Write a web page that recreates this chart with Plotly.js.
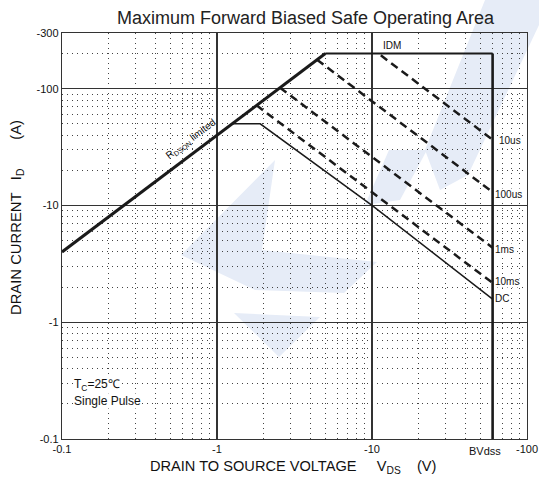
<!DOCTYPE html>
<html>
<head>
<meta charset="utf-8">
<script src="https://cdn.plot.ly/plotly-3.0.1.min.js"></script>
<style>html,body{margin:0;padding:0;background:#fff;}#chart{width:539px;height:487px;}</style>
</head>
<body>
<div id="chart"></div>
<script>
// ---- tick labels ----
const xTickVals = [0.1, 1, 10, 100];
const xTickText = ['-0.1', '-1', '-10', '-100'];
const yTickVals = [0.1, 1, 10, 100, 300];
const yTickText = ['-0.1', '-1', '-10', '-100', '-300'];

// ---- boundary curves (|VDS| in V, |ID| in A) ----
const rdsV = [0.1, 5];
const rdsI = [4, 200];
const idmV = [5, 60];
const idmI = [200, 200];
const bvV = [60, 60];
const bvI = [200, 0.1];

// ---- pulse limits ----
const v10us = [11.4, 60];
const i10us = [193, 36.6];
const v100us = [4.42, 60];
const i100us = [177, 13];
const v1ms = [2.55, 60];
const i1ms = [102, 4.35];
const v10ms = [1.8, 60];
const i10ms = [72, 2.17];
const vDC = [1.25, 1.9, 10, 60];
const iDC = [50, 50, 10, 1.58];

// minor grid positions (2..9 per decade)
function minorVals(lo, hi, extra) {
  const out = [];
  for (let d = lo; d < hi; d++) {
    for (let k = 2; k <= 9; k++) out.push(k * Math.pow(10, d));
  }
  return out.concat(extra || []);
}
const xMinor = minorVals(-1, 2);
const yMinor = minorVals(-1, 2, [200]);

const ink = '#1a1a1a';
const traces = [
  {x: rdsV, y: rdsI, mode: 'lines', line: {color: ink, width: 3}},
  {x: idmV, y: idmI, mode: 'lines', line: {color: ink, width: 2}},
  {x: bvV, y: bvI, mode: 'lines', line: {color: ink, width: 2.6}},
  {x: v10us, y: i10us, mode: 'lines', line: {color: ink, width: 2.5, dash: '8px,5px'}},
  {x: v100us, y: i100us, mode: 'lines', line: {color: ink, width: 2.5, dash: '8px,5px'}},
  {x: v1ms, y: i1ms, mode: 'lines', line: {color: ink, width: 2.5, dash: '8px,5px'}},
  {x: v10ms, y: i10ms, mode: 'lines', line: {color: ink, width: 2.5, dash: '8px,5px'}},
  {x: vDC, y: iDC, mode: 'lines', line: {color: ink, width: 1.5}}
];

// pixel -> paper helper for watermark polygons
const L = 62, R = 12, T = 33, B = 48, W = 539, H = 487;
const PW = W - L - R, PH = H - T - B;
function px(p) {
  return [(p[0] - L) / PW, (H - B - p[1]) / PH];
}
function poly(pts) {
  return 'M' + pts.map(p => { const q = px(p); return q[0].toFixed(4) + ',' + q[1].toFixed(4); }).join('L') + 'Z';
}
const wmColor = '#e6ecf7';
const wm = [
  [[181, 255], [275, 160], [262, 250], [377, 262], [344, 293], [255, 290]],
  [[234, 313], [320, 317], [279, 357]],
  [[389, 150], [427, 150], [400, 200], [365, 205]],
  [[485, 0], [539, 0], [539, 25], [468, 175], [440, 190], [425, 150]]
].map(pts => ({type: 'path', xref: 'paper', yref: 'paper', path: poly(pts), fillcolor: wmColor, line: {width: 0}, layer: 'below'}));

const font = 'Liberation Sans, Arial, sans-serif';
const nb = '\u00a0';
const sp = n => nb.repeat(n);
const white = 'rgba(255,255,255,1)';
const ann = [
  {text: 'IDM', x: Math.log10(13.5), y: Math.log10(235), showarrow: false, font: {size: 10}},
  {text: '10us', x: 1.815, y: Math.log10(36), xanchor: 'left', showarrow: false, font: {size: 10}, bgcolor: white, borderpad: 0},
  {text: '100us', x: 1.785, y: Math.log10(12.5), xanchor: 'left', showarrow: false, font: {size: 10}, bgcolor: white, borderpad: 0},
  {text: '1ms', x: 1.785, y: Math.log10(4.2), xanchor: 'left', showarrow: false, font: {size: 10}, bgcolor: white, borderpad: 0},
  {text: '10ms', x: 1.785, y: Math.log10(2.25), xanchor: 'left', showarrow: false, font: {size: 10}, bgcolor: white, borderpad: 0},
  {text: 'DC', x: 1.785, y: Math.log10(1.6), xanchor: 'left', showarrow: false, font: {size: 10}, bgcolor: white, borderpad: 0},
  {text: 'R<sub>DSON</sub> limited', x: Math.log10(0.679), y: Math.log10(37.4), showarrow: false, textangle: -37, font: {size: 10}},
  {text: 'T<sub>C</sub>=25℃', x: Math.log10(0.118), y: Math.log10(0.29), xanchor: 'left', showarrow: false, font: {size: 12}, bgcolor: white, borderpad: 0},
  {text: 'Single Pulse', x: Math.log10(0.118), y: Math.log10(0.213), xanchor: 'left', showarrow: false, font: {size: 12}, bgcolor: white, borderpad: 0},
  {text: 'BVdss', xref: 'paper', yref: 'paper', x: (485 - L) / PW, y: -0.03, xanchor: 'center', yanchor: 'middle', showarrow: false, font: {size: 11}},
  {text: 'DRAIN TO SOURCE VOLTAGE' + sp(5) + 'V<sub>DS</sub>' + sp(4) + '(V)', xref: 'paper', yref: 'paper', x: (292.5 - L) / PW, y: (H - B - 467) / PH, xanchor: 'center', yanchor: 'middle', showarrow: false, font: {size: 14.6}},
  {text: 'DRAIN CURRENT' + sp(3) + 'I<sub>D</sub>' + sp(7) + '(A)', xref: 'paper', yref: 'paper', x: (17 - L) / PW, y: (H - B - 218) / PH, xanchor: 'center', yanchor: 'middle', textangle: -90, showarrow: false, font: {size: 14.8}}
];

const layout = {
  width: W, height: H,
  margin: {l: L, r: R, t: T, b: B},
  paper_bgcolor: '#ffffff', plot_bgcolor: 'rgba(0,0,0,0)',
  font: {family: font, color: '#111', size: 11},
  showlegend: false,
  title: {text: 'Maximum Forward Biased Safe Operating Area', x: 305.5 / W, xanchor: 'center', y: 1 - 18 / H, yanchor: 'middle', font: {size: 18, color: '#222'}},
  xaxis: {
    type: 'log', range: [-1, 2], tickmode: 'array', tickvals: xTickVals, ticktext: xTickText,
    showgrid: true, gridcolor: '#333', gridwidth: 1.2, zeroline: false,
    showline: true, mirror: true, linecolor: '#333', linewidth: 1.2, ticks: '', ticklen: 0,
    minor: {tickmode: 'array', tickvals: xMinor, showgrid: true, gridcolor: '#444', gridwidth: 1, griddash: '1px,4px', ticks: ''},
    tickfont: {size: 11}
  },
  yaxis: {
    type: 'log', range: [-1, Math.log10(300)], tickmode: 'array', tickvals: yTickVals, ticktext: yTickText,
    showgrid: true, gridcolor: '#333', gridwidth: 1.2, zeroline: false,
    showline: true, mirror: true, linecolor: '#333', linewidth: 1.2, ticks: '', ticklen: 0,
    minor: {tickmode: 'array', tickvals: yMinor, showgrid: true, gridcolor: '#444', gridwidth: 1, griddash: '1px,4px', ticks: ''},
    tickfont: {size: 11}
  },
  shapes: wm,
  annotations: ann.map(a => Object.assign({xref: 'x', yref: 'y'}, a))
};

Plotly.newPlot('chart', traces, layout, {staticPlot: true, displayModeBar: false});
</script>
</body>
</html>
